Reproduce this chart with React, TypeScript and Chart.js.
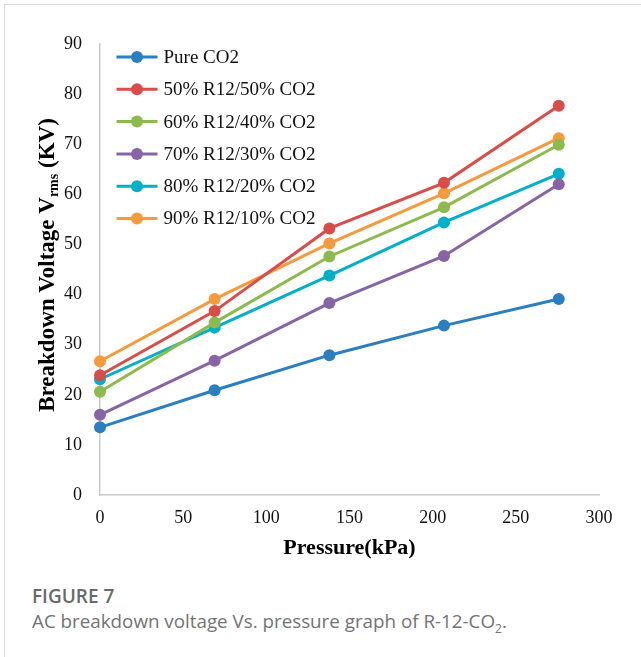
import React, { useEffect, useRef } from "react";
import { Chart, registerables } from "chart.js";

Chart.register(...registerables);

const pressures = [0, 68.9, 137.9, 206.8, 275.8];
const seriesNames = [
  "Pure CO2",
  "50% R12/50% CO2",
  "60% R12/40% CO2",
  "70% R12/30% CO2",
  "80% R12/20% CO2",
  "90% R12/10% CO2",
];
const pureCO2 = [13.5, 20.9, 27.9, 33.8, 39.1];
const r12_50 = [23.9, 36.7, 53.2, 62.3, 77.7];
const r12_60 = [20.6, 34.4, 47.6, 57.4, 69.9];
const r12_70 = [16.0, 26.8, 38.3, 47.7, 62.0];
const r12_80 = [23.1, 33.4, 43.8, 54.4, 64.1];
const r12_90 = [26.7, 39.1, 50.2, 60.2, 71.2];
const seriesValues = [pureCO2, r12_50, r12_60, r12_70, r12_80, r12_90];
const seriesColors = ["#2a7fc2", "#d94d48", "#8cba4c", "#8764a6", "#00afc9", "#f79a3c"];
const xTicks = [0, 50, 100, 150, 200, 250, 300];
const yTicks = [0, 10, 20, 30, 40, 50, 60, 70, 80, 90];

const SERIF = "'Liberation Serif', 'Times New Roman', serif";

const overlayPlugin = {
  id: "overlay",
  afterDraw(chart: any) {
    const ctx = chart.ctx;
    const area = chart.chartArea;
    ctx.save();
    // legend inside plot
    chart.data.datasets.forEach((ds: any, i: number) => {
      const y = area.top + 13 + i * 32.3;
      const x0 = area.left + 16.5;
      ctx.strokeStyle = ds.borderColor;
      ctx.lineWidth = 3;
      ctx.beginPath();
      ctx.moveTo(x0, y);
      ctx.lineTo(x0 + 41, y);
      ctx.stroke();
      ctx.fillStyle = ds.borderColor;
      ctx.beginPath();
      ctx.arc(x0 + 20.5, y, 6, 0, Math.PI * 2);
      ctx.fill();
      ctx.fillStyle = "#111";
      ctx.font = `19px ${SERIF}`;
      ctx.textAlign = "left";
      ctx.textBaseline = "middle";
      ctx.fillText(ds.label, x0 + 47, y + 1);
    });
    // x title
    ctx.fillStyle = "#000";
    ctx.font = `bold 22px ${SERIF}`;
    ctx.textAlign = "center";
    ctx.textBaseline = "middle";
    ctx.fillText("Pressure(kPa)", (area.left + area.right) / 2, 548);
    // y title with subscript
    ctx.translate(54, 265);
    ctx.rotate(-Math.PI / 2);
    ctx.textBaseline = "alphabetic";
    ctx.textAlign = "left";
    const big = `bold 23px ${SERIF}`;
    const small = `bold 14px ${SERIF}`;
    const p1 = "Breakdown Voltage V";
    const p2 = "rms";
    const p3 = " (KV)";
    ctx.font = big;
    const w1 = ctx.measureText(p1).width;
    const w3 = ctx.measureText(p3).width;
    ctx.font = small;
    const w2 = ctx.measureText(p2).width;
    let x = -(w1 + w2 + w3) / 2;
    ctx.font = big;
    ctx.fillText(p1, x, 0);
    x += w1;
    ctx.font = small;
    ctx.fillText(p2, x, 4);
    x += w2;
    ctx.font = big;
    ctx.fillText(p3, x, 0);
    ctx.restore();
  },
};

export default function App() {
  const canvasRef = useRef<HTMLCanvasElement | null>(null);

  useEffect(() => {
    if (!canvasRef.current) return;
    const chart = new Chart(canvasRef.current, {
      type: "line",
      data: {
        datasets: seriesNames.map((name, i) => ({
          label: name,
          data: pressures.map((p, j) => ({ x: p, y: seriesValues[i][j] })),
          borderColor: seriesColors[i],
          backgroundColor: seriesColors[i],
          borderWidth: 3,
          pointRadius: 6,
          pointHoverRadius: 6,
          pointBorderWidth: 0,
          tension: 0,
          clip: false as any,
        })),
      },
      options: {
        animation: false,
        responsive: false,
        maintainAspectRatio: false,
        layout: { padding: { left: 0, right: 42, top: 44, bottom: 20 } },
        plugins: { legend: { display: false }, tooltip: { enabled: false } },
        scales: {
          x: {
            type: "linear",
            min: 0,
            max: 300,
            afterFit: (s: any) => {
              s.height = 65;
            },
            afterBuildTicks: (s: any) => {
              s.ticks = xTicks.map((v) => ({ value: v }));
            },
            grid: { display: false, drawTicks: false },
            border: { display: true, color: "#c9c9c9", width: 1.5 },
            ticks: {
              padding: 12,
              color: "#111",
              font: { family: SERIF, size: 18 },
              maxRotation: 0,
            },
          },
          y: {
            type: "linear",
            min: 0,
            max: 90,
            afterFit: (s: any) => {
              s.width = 100;
            },
            afterBuildTicks: (s: any) => {
              s.ticks = yTicks.map((v) => ({ value: v }));
            },
            grid: { display: false, drawTicks: false },
            border: { display: true, color: "#c9c9c9", width: 1.5 },
            ticks: {
              padding: 18,
              color: "#111",
              font: { family: SERIF, size: 18 },
            },
          },
        },
      },
      plugins: [overlayPlugin],
    });
    return () => chart.destroy();
  }, []);

  return (
    <div
      style={{
        position: "absolute",
        left: 0,
        top: 0,
        width: 641,
        height: 657,
        background: "#fff",
        overflow: "hidden",
      }}
    >
      <div
        style={{
          position: "absolute",
          left: 4,
          top: 4,
          right: -10,
          bottom: -10,
          borderLeft: "1.5px solid #d8d8d8",
          borderTop: "1.5px solid #d8d8d8",
        }}
      />
      <canvas
        ref={canvasRef}
        width={641}
        height={580}
        style={{ position: "absolute", left: 0, top: 0, width: 641, height: 580 }}
      />
      <div
        style={{
          position: "absolute",
          left: 32,
          top: 583,
          fontFamily: "'Open Sans', 'Noto Sans', sans-serif",
        }}
      >
        <div style={{ fontSize: 19, fontWeight: 600, lineHeight: "26px", color: "#6a6a6a" }}>
          FIGURE 7
        </div>
        <div style={{ fontSize: 18.8, lineHeight: "24px", color: "#737373", whiteSpace: "nowrap" }}>
          AC breakdown voltage Vs. pressure graph of R-12-CO<sub style={{ fontSize: 12 }}>2</sub>.
        </div>
      </div>
    </div>
  );
}
